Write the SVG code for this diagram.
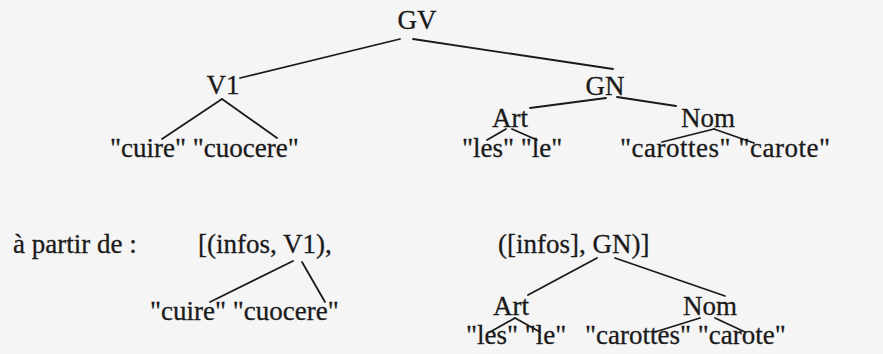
<svg xmlns="http://www.w3.org/2000/svg" width="883" height="354" viewBox="0 0 883 354">
<style>
  text { font-family: "Liberation Serif", "Times New Roman", serif; font-size: 27px; fill: #1a1a1a; stroke: #1a1a1a; stroke-width: 0.3; }
  .edge { stroke: #1a1a1a; stroke-width: 1.8; fill: none; stroke-linecap: round; }
</style>
<rect x="0" y="0" width="883" height="354" fill="#f5f5f5"/>

<g id="connectors">
  <line class="edge" x1="400" y1="39" x2="240" y2="78"/>
  <line class="edge" x1="413" y1="39" x2="613" y2="69"/>
  <line class="edge" x1="222" y1="99" x2="162" y2="139"/>
  <line class="edge" x1="222" y1="99" x2="277" y2="138"/>
  <line class="edge" x1="606" y1="98" x2="530" y2="108"/>
  <line class="edge" x1="617" y1="97" x2="676" y2="106"/>
  <line class="edge" x1="506" y1="129" x2="487" y2="140"/>
  <line class="edge" x1="512" y1="129" x2="537" y2="140"/>
  <line class="edge" x1="714" y1="129" x2="662" y2="142"/>
  <line class="edge" x1="714" y1="129" x2="754" y2="143"/>
  <line class="edge" x1="293" y1="261" x2="210" y2="302"/>
  <line class="edge" x1="302" y1="262" x2="325" y2="302"/>
  <line class="edge" x1="597" y1="258" x2="528" y2="295"/>
  <line class="edge" x1="615" y1="258" x2="725" y2="296"/>
  <line class="edge" x1="515" y1="318" x2="490" y2="332"/>
  <line class="edge" x1="515" y1="318" x2="540" y2="332"/>
  <line class="edge" x1="700" y1="318" x2="655" y2="332"/>
  <line class="edge" x1="715" y1="318" x2="745" y2="332"/>
</g>

<g id="GV"><text x="417" y="29" text-anchor="middle">GV</text></g>
<g id="V1"><text x="223" y="94" text-anchor="middle">V1</text></g>
<g id="GN"><text x="605" y="95" text-anchor="middle">GN</text></g>
<g id="Art"><text x="510" y="127" text-anchor="middle">Art</text></g>
<g id="Nom"><text x="708" y="127" text-anchor="middle">Nom</text></g>
<g id="v1-words"><text x="110" y="157">"cuire" "cuocere"</text></g>
<g id="art-words"><text x="462" y="157">"les" "le"</text></g>
<g id="nom-words"><text x="620" y="157" textLength="210" lengthAdjust="spacing">"carottes" "carote"</text></g>

<g id="a-partir"><text x="13" y="253">à partir de :</text></g>
<g id="infos-V1"><text x="198" y="253">[(infos, V1),</text></g>
<g id="infos-GN"><text x="498" y="253">([infos], GN)]</text></g>
<g id="v1-words-2"><text x="150" y="320">"cuire" "cuocere"</text></g>
<g id="Art-2"><text x="511" y="315" text-anchor="middle">Art</text></g>
<g id="Nom-2"><text x="710" y="315" text-anchor="middle">Nom</text></g>
<g id="art-words-2"><text x="466" y="344">"les" "le"</text></g>
<g id="nom-words-2"><text x="585" y="344">"carottes" "carote"</text></g>
</svg>
